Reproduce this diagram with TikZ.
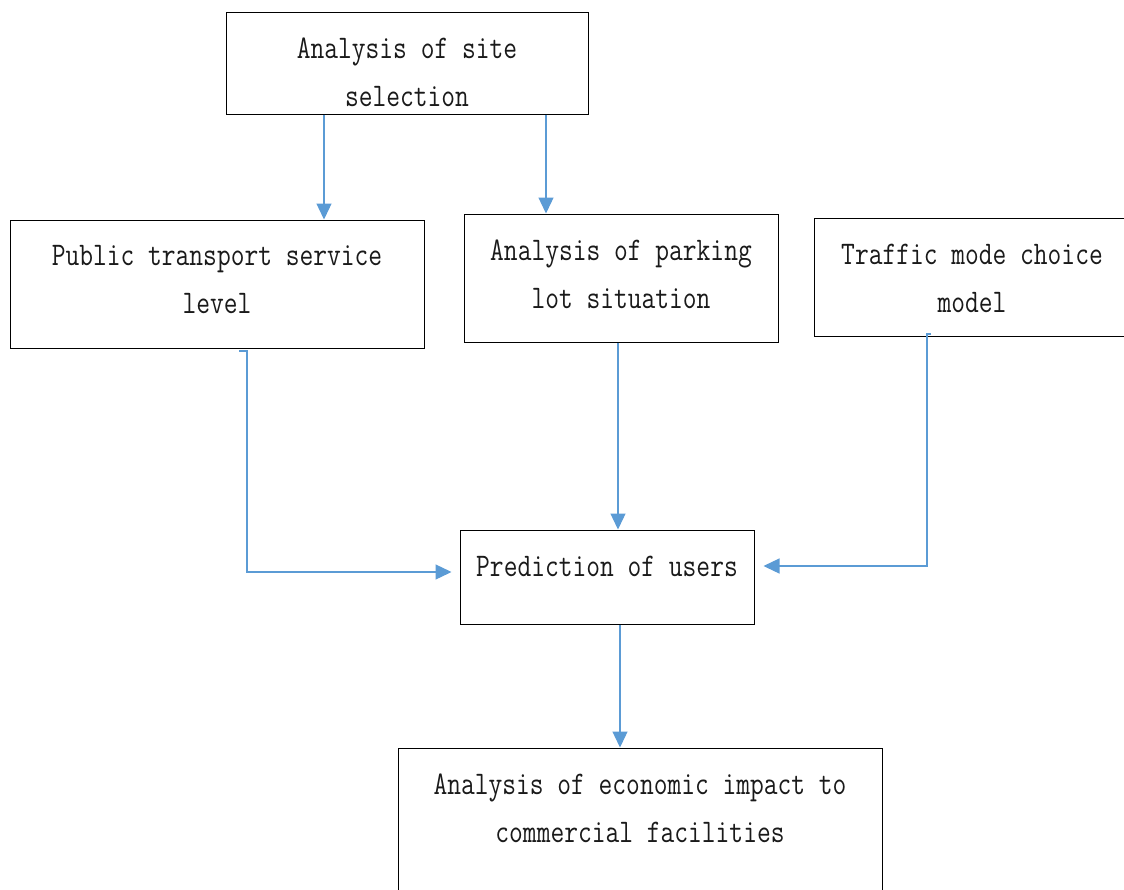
\documentclass[tikz,border=0pt]{standalone}
\usepackage{fontspec}
\newfontfamily\diafont{Latin Modern Mono}[FakeStretch=0.81]
\usetikzlibrary{arrows.meta}
\definecolor{conblue}{HTML}{5B9BD5}
\definecolor{txtgray}{HTML}{1A1A1A}
\tikzset{
  box/.style={draw=black, line width=1pt, rectangle, inner sep=0pt},
  lbl/.style={text=txtgray, align=center, inner sep=0pt, font=\diafont\fontsize{33}{48}\selectfont},
  conn/.style={draw=conblue, line width=1.3pt, -{Triangle[length=16pt,width=15pt]}},
}
\begin{document}
\begin{tikzpicture}[x=1pt,y=-1pt]
\useasboundingbox (0,0) rectangle (1124,889);
\fill[white] (0,0) rectangle (1124,889);
% boxes
\node[box, minimum width=362pt, minimum height=102pt] (A) at (407,63) {};
\node[box, minimum width=414pt, minimum height=128pt] (B) at (217,284) {};
\node[box, minimum width=314pt, minimum height=128pt] (C) at (621,278) {};
\node[box, minimum width=316pt, minimum height=118pt] (D) at (972,277) {};
\node[box, minimum width=294pt, minimum height=94pt] (E) at (607,577) {};
\node[box, minimum width=484pt, minimum height=160pt] (F) at (640,828) {};
% texts
\node[lbl] (At) at (407,72) {Analysis of site\\selection};
\node[lbl] (Bt) at (217,280) {Public transport service\\level};
\node[lbl] (Ct) at (621,274) {Analysis of parking\\lot situation};
\node[lbl] (Dt) at (972,278) {Traffic mode choice\\model};
\node[lbl, anchor=base] (Et) at (607,576) {Prediction of users};
\node[lbl] (Ft) at (640,808) {Analysis of economic impact to\\commercial facilities};
% connectors
\draw[conn] (324,0 |- A.south) -- (324,0 |- B.north);
\draw[conn] (546,0 |- A.south) -- (546,0 |- C.north);
\coordinate (Bout) at (239,351);
\draw[conn] (Bout) -- (247,351) -- (247,572) -- ([xshift=-8pt]E.west |- 0,572);
\draw[conn] (618,0 |- C.south) -- (618,0 |- E.north);
\coordinate (Dout) at (931,334);
\draw[conn] (Dout) -- (927,334) -- (927,566) -- ([xshift=9pt]E.east |- 0,566);
\draw[conn] (620,0 |- E.south) -- (620,0 |- F.north);
\end{tikzpicture}
\end{document}
